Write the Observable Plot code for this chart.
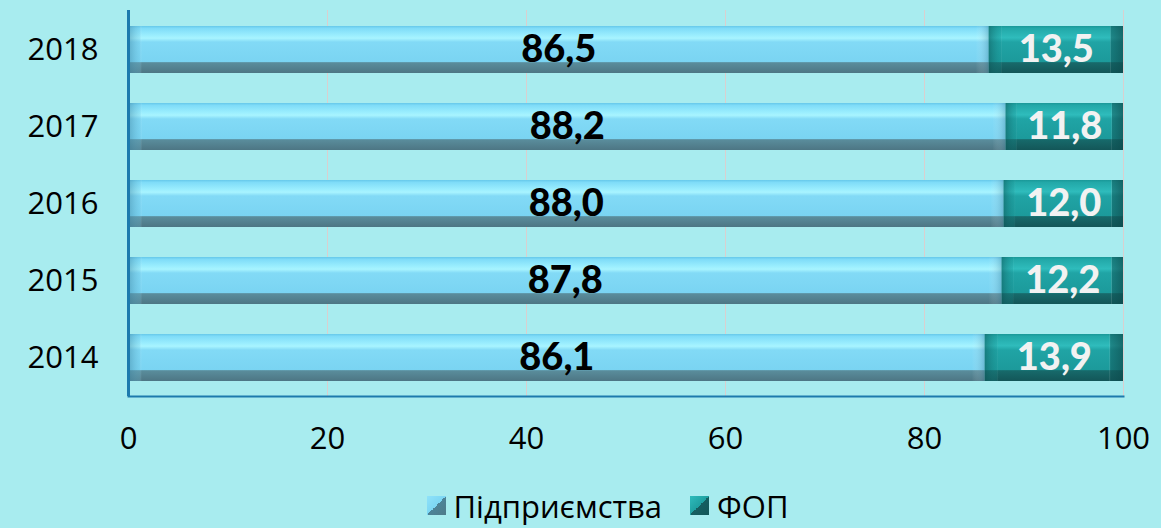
<!DOCTYPE html>
<html>
<head>
<meta charset="utf-8">
<script src="https://cdn.jsdelivr.net/npm/d3@7"></script>
<script src="https://cdn.jsdelivr.net/npm/@observablehq/plot@0.6"></script>
<style>
  html, body { margin: 0; padding: 0; background: #a8ecef; }
  #chart { width: 1161px; height: 528px; background: #a8ecef; overflow: hidden; }
  .legend { display: flex; justify-content: center; align-items: center; height: 53px; padding-left: 54px; padding-top: 8px; box-sizing: border-box;
            font-family: "Open Sans", "Noto Sans", sans-serif; font-size: 31px; color: #000; }
  .legend .item { display: flex; align-items: center; margin: 0 14px; }
  .legend .sw { width: 19px; height: 19px; margin-right: 8px; display: inline-block; }
</style>
</head>
<body>
<div id="chart"></div>
<script>
const years = ["2014", "2015", "2016", "2017", "2018"];
const seriesNames = ["Підприємства", "ФОП"];
const pidpr = [86.1, 87.8, 88.0, 88.2, 86.5];
const fop = [13.9, 12.2, 12.0, 11.8, 13.5];
const xTicks = [0, 20, 40, 60, 80, 100];

const rows = [];
years.forEach((y, i) => {
  rows.push({year: y, series: seriesNames[0], value: pidpr[i]});
  rows.push({year: y, series: seriesNames[1], value: fop[i]});
});
const fmt = v => d3.format(".1f")(v).replace(".", ",");
const labelsA = years.map((y, i) => ({year: y, x: pidpr[i] / 2, t: fmt(pidpr[i])}));
const labelsB = years.map((y, i) => ({year: y, x: pidpr[i] + fop[i] / 2, t: fmt(fop[i])}));

const plot = Plot.plot({
  width: 1161,
  height: 475,
  marginLeft: 128,
  marginRight: 38,
  marginTop: 10,
  marginBottom: 79,
  style: {background: "transparent", fontFamily: "'Open Sans', 'Noto Sans', sans-serif", fontSize: "31px", color: "#000"},
  x: {domain: [0, 100], ticks: xTicks, tickSize: 0, tickPadding: 30, label: null},
  y: {domain: years.slice().reverse(), paddingInner: 0.39, paddingOuter: 0.19, tickSize: 0, tickPadding: 30, label: null},
  color: {domain: seriesNames, range: ["url(#gBlue)", "url(#gTeal)"]},
  marks: [
    Plot.gridX(xTicks.filter(d => d > 0), {stroke: "#d9cfcf", strokeOpacity: 1, strokeWidth: 1}),
    Plot.barX(rows, Plot.stackX({y: "year", x: "value", fill: "series", order: seriesNames})),
    Plot.barX(rows, Plot.stackX({y: "year", x: "value", order: seriesNames,
      fill: d => d.series === seriesNames[0] ? "url(#eBlue)" : "url(#eTeal)"})),
    Plot.ruleX([0], {stroke: "#1d7aad", strokeWidth: 3}),
    Plot.frame({anchor: "bottom", stroke: "#1d7aad", strokeWidth: 2}),
    Plot.text(labelsA, {x: "x", y: "year", text: "t", fill: "#000", fontSize: 38, fontWeight: 900, fontFamily: "Lato, sans-serif"}),
    Plot.text(labelsB, {x: "x", y: "year", text: "t", fill: "#f2f2f2", fontSize: 38, fontWeight: 900, fontFamily: "Lato, sans-serif"})
  ]
});

plot.insertAdjacentHTML("afterbegin", `
<defs>
  <linearGradient id="gBlue" x1="0" y1="0" x2="0" y2="1">
    <stop offset="0" stop-color="#66c8ea"/>
    <stop offset="0.05" stop-color="#7fdcf8"/>
    <stop offset="0.2" stop-color="#9beefe"/>
    <stop offset="0.26" stop-color="#a8f4ff"/>
    <stop offset="0.34" stop-color="#82daf6"/>
    <stop offset="0.76" stop-color="#7ad4f2"/>
    <stop offset="0.78" stop-color="#5a8d9c"/>
    <stop offset="1" stop-color="#4d7684"/>
  </linearGradient>
  <linearGradient id="gTeal" x1="0" y1="0" x2="0" y2="1">
    <stop offset="0" stop-color="#1a9898"/>
    <stop offset="0.05" stop-color="#22a8a8"/>
    <stop offset="0.25" stop-color="#2fbcbc"/>
    <stop offset="0.34" stop-color="#20a4a5"/>
    <stop offset="0.76" stop-color="#1c9a9b"/>
    <stop offset="0.78" stop-color="#176a6b"/>
    <stop offset="1" stop-color="#135658"/>
  </linearGradient>
  <linearGradient id="eBlue" x1="0" y1="0" x2="1" y2="0">
    <stop offset="0" stop-color="#3f87a4" stop-opacity="0.55"/>
    <stop offset="0.014" stop-color="#6fc3e0" stop-opacity="0.25"/>
    <stop offset="0.016" stop-color="#ffffff" stop-opacity="0"/>
    <stop offset="0.985" stop-color="#ffffff" stop-opacity="0"/>
    <stop offset="1" stop-color="#3f7f96" stop-opacity="0.35"/>
  </linearGradient>
  <linearGradient id="eTeal" x1="0" y1="0" x2="1" y2="0">
    <stop offset="0" stop-color="#0f5c5e" stop-opacity="0.55"/>
    <stop offset="0.09" stop-color="#1a8f90" stop-opacity="0.2"/>
    <stop offset="0.1" stop-color="#ffffff" stop-opacity="0"/>
    <stop offset="0.9" stop-color="#ffffff" stop-opacity="0"/>
    <stop offset="0.91" stop-color="#0f5456" stop-opacity="0.5"/>
    <stop offset="1" stop-color="#0c4a4c" stop-opacity="0.7"/>
  </linearGradient>
</defs>`);

const chart = document.getElementById("chart");
chart.appendChild(plot);

const legend = document.createElement("div");
legend.className = "legend";
const swatchBg = [
  "linear-gradient(135deg, #8fe2fa 0%, #7cd6f3 50%, #4d8498 50%, #4f7b89 100%)",
  "linear-gradient(135deg, #2fbcbc 0%, #1fa0a1 50%, #155f61 50%, #135658 100%)"
];
seriesNames.forEach((s, i) => {
  const item = document.createElement("span");
  item.className = "item";
  const sw = document.createElement("span");
  sw.className = "sw";
  sw.style.background = swatchBg[i];
  item.appendChild(sw);
  item.appendChild(document.createTextNode(s));
  legend.appendChild(item);
});
chart.appendChild(legend);
</script>
</body>
</html>
